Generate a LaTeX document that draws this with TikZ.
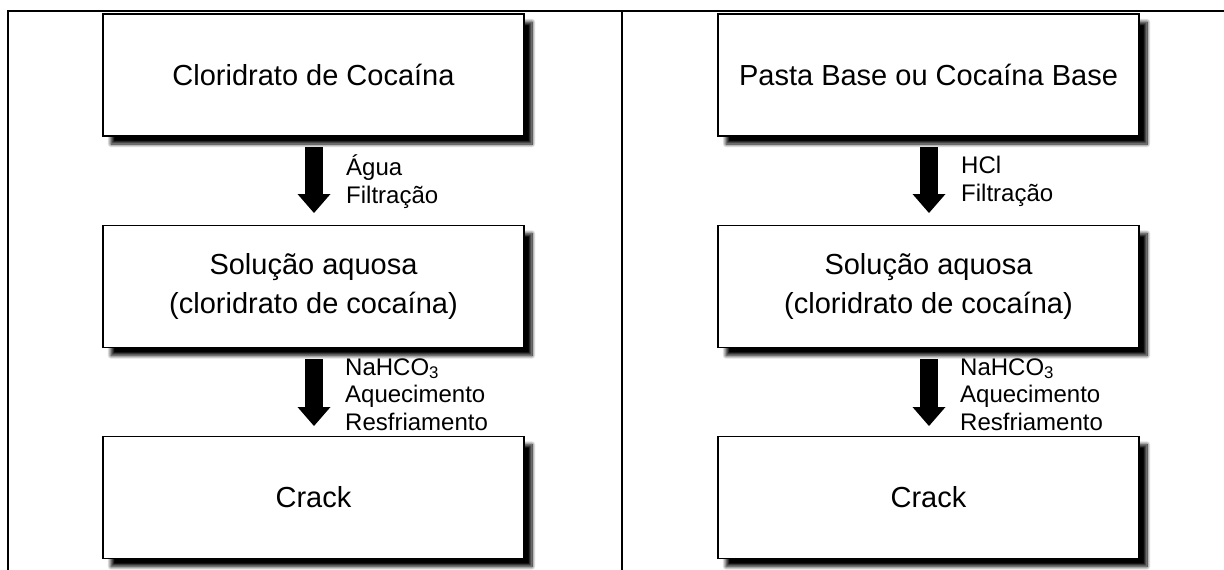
\documentclass[tikz,border=0pt]{standalone}
\usepackage{fontspec}
\setmainfont{Liberation Sans}
\usetikzlibrary{arrows.meta,shadows.blur}

\begin{document}
\begin{tikzpicture}[x=1pt,y=-1pt,
  stage/.style={draw=black, line width=1.8pt, fill=white,
    minimum width=421pt, minimum height=122pt, inner sep=0pt,
    font=\fontsize{29}{39}\selectfont, align=center,
    blur shadow={shadow xshift=8pt, shadow yshift=-8pt,
      shadow blur radius=3.5pt, shadow blur steps=10, shadow opacity=100}},
  steplabel/.style={anchor=west, inner sep=0pt, align=left,
    font=\fontsize{24}{27.5}\selectfont},
  bigarrow/.style={line width=18pt,
    -{Triangle[length=19pt,width=33pt,line width=0pt]}},
  rule/.style={line width=2.5pt}
]
  \useasboundingbox (0,0) rectangle (1224,570);

  % table rules
  \draw[rule] (8,570) -- (8,11) -- (1224,11);
  \draw[rule] (622,11) -- (622,570);

  % left column: hydrochloride route
  \node[stage] (l1) at (313.5,75)   {Cloridrato de Cocaína};
  \node[stage] (l2) at (313.5,286.5){Solução aquosa\\(cloridrato de cocaína)};
  \node[stage] (l3) at (313.5,497.5){Crack};

  \coordinate (la1s) at (314,147);
  \coordinate (la1e) at (314,213);
  \coordinate (la2s) at (314,359);
  \coordinate (la2e) at (314,426);
  \draw[bigarrow] (la1s) -- (la1e);
  \draw[bigarrow] (la2s) -- (la2e);
  \node[steplabel] (lt1) at (346,181.5) {Água\\Filtração};
  \node[steplabel] (lt2) at (345,394.5) {NaHCO\textsubscript{3}\\Aquecimento\\Resfriamento};

  % right column: base paste route
  \node[stage] (r1) at (928.5,75)   {Pasta Base ou Cocaína Base};
  \node[stage] (r2) at (928.5,286.5){Solução aquosa\\(cloridrato de cocaína)};
  \node[stage] (r3) at (928.5,497.5){Crack};

  \coordinate (ra1s) at (929,147);
  \coordinate (ra1e) at (929,213);
  \coordinate (ra2s) at (929,359);
  \coordinate (ra2e) at (929,426);
  \draw[bigarrow] (ra1s) -- (ra1e);
  \draw[bigarrow] (ra2s) -- (ra2e);
  \node[steplabel] (rt1) at (961,181.5) {HCl\\Filtração};
  \node[steplabel] (rt2) at (960,394.5) {NaHCO\textsubscript{3}\\Aquecimento\\Resfriamento};
\end{tikzpicture}
\end{document}
